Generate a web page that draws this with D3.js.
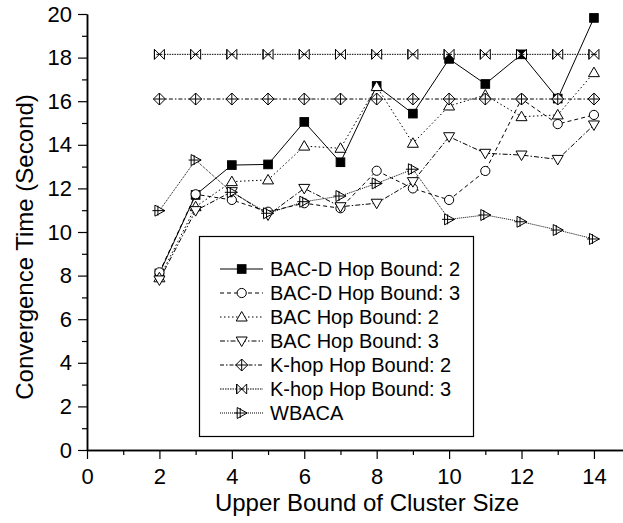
<!DOCTYPE html>
<html>
<head>
<meta charset="utf-8">
<script src="https://cdn.jsdelivr.net/npm/d3@7"></script>
<style>
  body { margin: 0; background: #fff; }
  text { font-family: "Liberation Sans", Arial, Helvetica, sans-serif; fill: #000; }
</style>
</head>
<body>
<svg id="chart" width="623" height="523"></svg>
<script>
// Upper bound of cluster size (x values)
const clusterSizes = [2, 3, 4, 5, 6, 7, 8, 9, 10, 11, 12, 13, 14];

// Convergence time (seconds) per method
const bacD2 = [8.1, 11.7, 13.07, 13.1, 15.05, 13.2, 16.7, 15.43, 17.94, 16.79, 18.15, 16.12, 19.82];
const bacD3 = [8.15, 11.73, 11.47, 10.93, 11.32, 11.09, 12.81, 12.0, 11.47, 12.8, 16.1, 14.95, 15.37];
const bac2  = [7.9, 11.16, 12.31, 12.39, 13.94, 13.84, 16.67, 14.07, 15.78, 16.28, 15.29, 15.37, 17.31];
const bac3  = [7.8, 10.98, 11.85, 10.78, 12.0, 11.16, 11.32, 12.31, 14.37, 13.61, 13.53, 13.33, 14.91];
const khop2 = [16.1, 16.1, 16.1, 16.1, 16.1, 16.1, 16.1, 16.1, 16.1, 16.1, 16.1, 16.1, 16.1];
const khop3 = [18.15, 18.15, 18.15, 18.15, 18.15, 18.15, 18.15, 18.15, 18.15, 18.15, 18.15, 18.15, 18.15];
const wbaca = [10.98, 13.3, 11.82, 10.86, 11.39, 11.65, 12.23, 12.88, 10.58, 10.78, 10.47, 10.09, 9.68];

const seriesNames = [
  "BAC-D Hop Bound: 2", "BAC-D Hop Bound: 3", "BAC Hop Bound: 2", "BAC Hop Bound: 3",
  "K-hop Hop Bound: 2", "K-hop Hop Bound: 3", "WBACA"
];
const seriesValues = [bacD2, bacD3, bac2, bac3, khop2, khop3, wbaca];

const xMajorTicks = [0, 2, 4, 6, 8, 10, 12, 14];
const xMinorTicks = [1, 3, 5, 7, 9, 11, 13];
const yMajorTicks = [0, 2, 4, 6, 8, 10, 12, 14, 16, 18, 20];
const yMinorTicks = [1, 3, 5, 7, 9, 11, 13, 15, 17, 19];

// Line dash pattern and marker shape per series
const styles = [
  { dash: null,            marker: "square"   },
  { dash: "4,3",           marker: "circle"   },
  { dash: "1.5,2.5",       marker: "triUp"    },
  { dash: "5,2,1.5,2",     marker: "triDown"  },
  { dash: "4,2,1.5,2",     marker: "diamondPlus" },
  { dash: "1.5,1",         marker: "bowtieX"  },
  { dash: "1,1",           marker: "triRightPlus" }
];

const svg = d3.select("#chart");
const plotLeft = 87, plotBottom = 450, plotTop = 14;
const unit = 36.21;

const x = d3.scaleLinear().domain([0, 14.8]).range([plotLeft, plotLeft + 14.8 * unit]);
const y = d3.scaleLinear().domain([0, 20]).range([plotBottom, plotTop]);

// Axes: major ticks with labels, minor ticks without
svg.append("g").attr("transform", `translate(0,${plotBottom})`)
  .call(d3.axisBottom(x).tickValues(xMajorTicks).tickSize(9).tickPadding(9).tickSizeOuter(0));
svg.append("g").attr("transform", `translate(0,${plotBottom})`)
  .call(d3.axisBottom(x).tickValues(xMinorTicks).tickSize(5).tickFormat("").tickSizeOuter(0));
svg.append("g").attr("transform", `translate(${plotLeft},0)`)
  .call(d3.axisLeft(y).tickValues(yMajorTicks).tickSize(9).tickPadding(6).tickSizeOuter(0));
svg.append("g").attr("transform", `translate(${plotLeft},0)`)
  .call(d3.axisLeft(y).tickValues(yMinorTicks).tickSize(5).tickFormat("").tickSizeOuter(0));

svg.selectAll(".domain").attr("stroke", "#000").attr("stroke-width", 1.5);
svg.selectAll(".tick line").attr("stroke", "#000").attr("stroke-width", 1.2);
svg.selectAll(".tick text").style("font-size", "22px").style("font-family", "'Liberation Sans', Arial, sans-serif");

// Axis titles
svg.append("text")
  .attr("x", 367).attr("y", 511)
  .attr("text-anchor", "middle")
  .style("font-size", "24px")
  .text("Upper Bound of Cluster Size");
svg.append("text")
  .attr("transform", "translate(33,247) rotate(-90)")
  .attr("text-anchor", "middle")
  .style("font-size", "24px")
  .text("Convergence Time (Second)");

// Marker drawing
function drawMarker(g, kind, cx, cy) {
  const m = g.append("g").attr("transform", `translate(${cx},${cy})`)
    .attr("stroke", "#000").attr("stroke-width", 1).attr("fill", "#fff");
  if (kind === "square") {
    m.append("rect").attr("x", -4.3).attr("y", -4.3).attr("width", 8.6).attr("height", 8.6)
      .attr("fill", "#000");
  } else if (kind === "circle") {
    m.append("circle").attr("r", 4.6);
  } else if (kind === "triUp") {
    m.append("path").attr("d", "M0,-5.5 L5.5,4 L-5.5,4 Z");
  } else if (kind === "triDown") {
    m.append("path").attr("d", "M0,5.5 L5.5,-4 L-5.5,-4 Z");
  } else if (kind === "diamondPlus") {
    m.append("path").attr("d", "M0,-6 L6,0 L0,6 L-6,0 Z");
    m.append("path").attr("d", "M0,-6 L0,6 M-6,0 L6,0").attr("fill", "none");
  } else if (kind === "bowtieX") {
    m.append("path").attr("d", "M-5,-5 L5,5 L5,-5 L-5,5 Z");
    m.append("path").attr("d", "M-5,-5 L-5,5 M-3,0 L3,0").attr("fill", "none");
  } else if (kind === "triRightPlus") {
    m.append("path").attr("d", "M-4.5,-5.5 L5.5,0 L-4.5,5.5 Z");
    m.append("path").attr("d", "M-1.5,-5 L-1.5,5 M-7,0 L5.5,0").attr("fill", "none");
  }
}

const plot = svg.append("g");
const line = d3.line().x(d => x(d[0])).y(d => y(d[1]));

// Lines first, then markers on top
seriesValues.forEach((vals, i) => {
  const pts = clusterSizes.map((c, k) => [c, vals[k]]);
  plot.append("path")
    .attr("d", line(pts))
    .attr("fill", "none")
    .attr("stroke", "#000")
    .attr("stroke-width", 1)
    .attr("stroke-dasharray", styles[i].dash);
});
seriesValues.forEach((vals, i) => {
  const g = plot.append("g");
  clusterSizes.forEach((c, k) => drawMarker(g, styles[i].marker, x(c), y(vals[k])));
});

// Legend
const lg = svg.append("g");
lg.append("rect")
  .attr("x", 199.5).attr("y", 236.5).attr("width", 274).attr("height", 200)
  .attr("fill", "#fff").attr("stroke", "#000").attr("stroke-width", 1.2);
seriesNames.forEach((name, i) => {
  const by = 276 + i * 24;
  const cy = by - 7;
  lg.append("line")
    .attr("x1", 220).attr("x2", 263).attr("y1", cy).attr("y2", cy)
    .attr("stroke", "#000").attr("stroke-width", 1)
    .attr("stroke-dasharray", styles[i].dash);
  drawMarker(lg, styles[i].marker, 241.7, cy);
  lg.append("text")
    .attr("x", 270).attr("y", by)
    .style("font-size", "20px")
    .text(name);
});
</script>
</body>
</html>
